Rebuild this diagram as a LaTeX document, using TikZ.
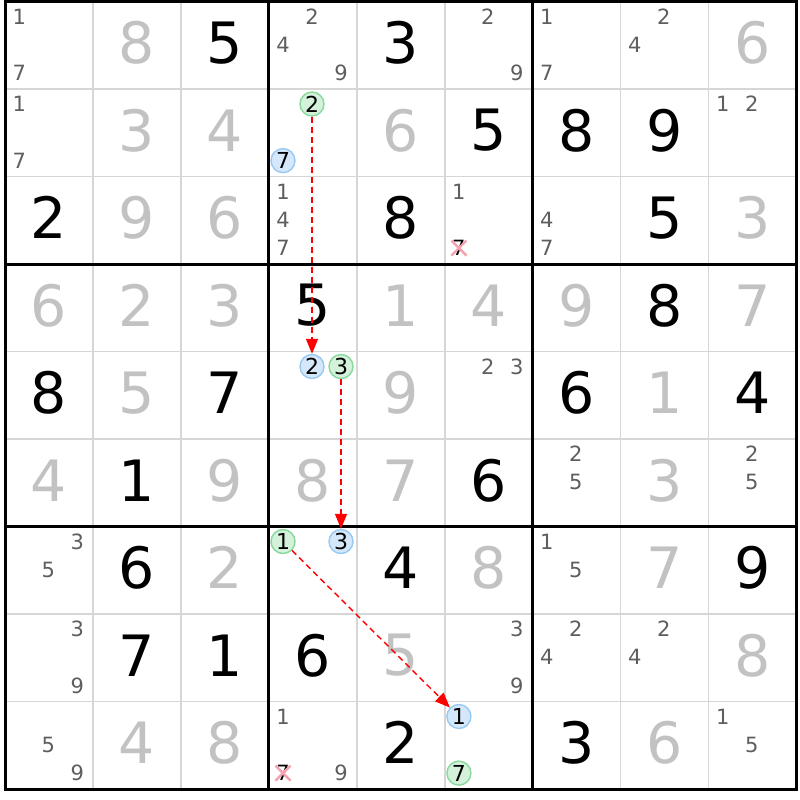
\documentclass[tikz,border=0pt]{standalone}
\usepackage{fontspec}
\setmainfont{DejaVu Sans}
\usetikzlibrary{arrows.meta}

\definecolor{pencil}{HTML}{5E5E5E}
\definecolor{placed}{HTML}{C2C2C2}
\definecolor{thingrid}{HTML}{D6D6D6}
\definecolor{ongreen}{HTML}{D4F2DB}
\definecolor{onedge}{HTML}{8AD89B}
\definecolor{offblue}{HTML}{D5E8FB}
\definecolor{offedge}{HTML}{98C9F1}
\definecolor{strikepink}{HTML}{F3A3AF}

\begin{document}
\begin{tikzpicture}[x=1pt,y=-1pt,
    given/.style={inner sep=0pt,font=\fontsize{57}{57}\selectfont},
    solved/.style={given,text=placed},
    cand/.style={inner sep=0pt,font=\fontsize{21}{21}\selectfont,text=pencil},
    onnode/.style={circle,draw=onedge,fill=ongreen,line width=1.4pt,minimum size=24pt,inner sep=0pt,font=\fontsize{22}{22}\selectfont},
    offnode/.style={onnode,draw=offedge,fill=offblue},
    link/.style={red,dash pattern=on 6pt off 4pt,line width=1.4pt,-{Triangle[length=15pt,width=12pt]}},
    strike/.style={strikepink,line width=2.4pt}]

    \useasboundingbox[fill=white] (0,0) rectangle (800,800);

    % cell lines
    \foreach \i in {1,2,4,5,7,8} {
        \draw[thingrid,line width=1.6pt] ({5+\i*87.94},1.5) -- ({5+\i*87.94},789);
        \draw[thingrid,line width=1.6pt] (5,{1.5+\i*87.5}) -- (796.5,{1.5+\i*87.5});
    }
    % box lines
    \foreach \i in {3,6} {
        \draw[line width=3pt] ({5+\i*87.94},1.5) -- ({5+\i*87.94},789);
        \draw[line width=3pt] (5,{1.5+\i*87.5}) -- (796.5,{1.5+\i*87.5});
    }
    \draw[line width=3pt] (5,1.5) rectangle (796.5,789);

    % givens
    \foreach \row/\col/\dig in {0/2/5, 0/4/3, 1/5/5, 1/6/8, 1/7/9, 2/0/2, 2/4/8, 2/7/5,
        3/3/5, 3/7/8, 4/0/8, 4/2/7, 4/6/6, 4/8/4, 5/1/1, 5/5/6, 6/1/6, 6/4/4, 6/8/9,
        7/1/7, 7/2/1, 7/3/6, 8/4/2, 8/6/3}
        \node[given] (g-\row-\col) at ({5+(\col+.5)*87.94},{1.5+(\row+.5)*87.5-2.5}) {\dig};

    % solved cells
    \foreach \row/\col/\dig in {0/1/8, 0/8/6, 1/1/3, 1/2/4, 1/4/6, 2/1/9, 2/2/6, 2/8/3,
        3/0/6, 3/1/2, 3/2/3, 3/4/1, 3/5/4, 3/6/9, 3/8/7, 4/1/5, 4/4/9, 4/7/1,
        5/0/4, 5/2/9, 5/3/8, 5/4/7, 5/7/3, 6/2/2, 6/5/8, 6/7/7, 7/4/5, 7/8/8,
        8/1/4, 8/2/8, 8/7/6}
        \node[solved] (s-\row-\col) at ({5+(\col+.5)*87.94},{1.5+(\row+.5)*87.5-2.5}) {\dig};

    % pencil marks
    \foreach \row/\col/\dig in {0/0/1, 0/0/7, 0/3/2, 0/3/4, 0/3/9, 0/5/2, 0/5/9, 0/6/1, 0/6/7, 0/7/2, 0/7/4,
        1/0/1, 1/0/7, 1/8/1, 1/8/2, 2/3/1, 2/3/4, 2/3/7, 2/5/1, 2/6/4, 2/6/7,
        4/5/2, 4/5/3, 5/6/2, 5/6/5, 5/8/2, 5/8/5, 6/0/3, 6/0/5, 6/6/1, 6/6/5,
        7/0/3, 7/0/9, 7/5/3, 7/5/9, 7/6/2, 7/6/4, 7/7/2, 7/7/4,
        8/0/5, 8/0/9, 8/3/1, 8/3/9, 8/8/1, 8/8/5} {
        \pgfmathtruncatemacro\sc{mod(\dig-1,3)}
        \pgfmathtruncatemacro\sr{div(\dig-1,3)}
        \node[cand] (p-\row-\col-\dig) at ({19.2+\col*87.94+\sc*29},{16.5+\row*87.5+\sr*28.3}) {\dig};
    }

    % chain
    \node[onnode] (on1) at (312.0,104.0) {2};
    \node[offnode] (off1) at (283.0,160.6) {7};
    \node[offnode] (off2) at (312.0,366.5) {2};
    \node[onnode] (on2) at (341.0,366.5) {3};
    \node[onnode] (on3) at (283.0,541.5) {1};
    \node[offnode] (off3) at (341.0,541.5) {3};
    \node[offnode] (off4) at (458.9,716.5) {1};
    \node[onnode] (on4) at (458.9,773.1) {7};

    \draw[link] (on1) -- (off2);
    \draw[link] (on2) -- (off3);
    \draw[link] (on3) -- (off4);

    % eliminations
    \node[cand,text=black] (x1) at (458.9,248.1) {7};
    \node[cand,text=black] (x2) at (283.0,773.1) {7};
    \foreach \n in {x1,x2} {
        \draw[strike] ([shift={(-7.5,-7.5)}]\n.center) -- ([shift={(7.5,7.5)}]\n.center);
        \draw[strike] ([shift={(-7.5,7.5)}]\n.center) -- ([shift={(7.5,-7.5)}]\n.center);
    }
\end{tikzpicture}
\end{document}
